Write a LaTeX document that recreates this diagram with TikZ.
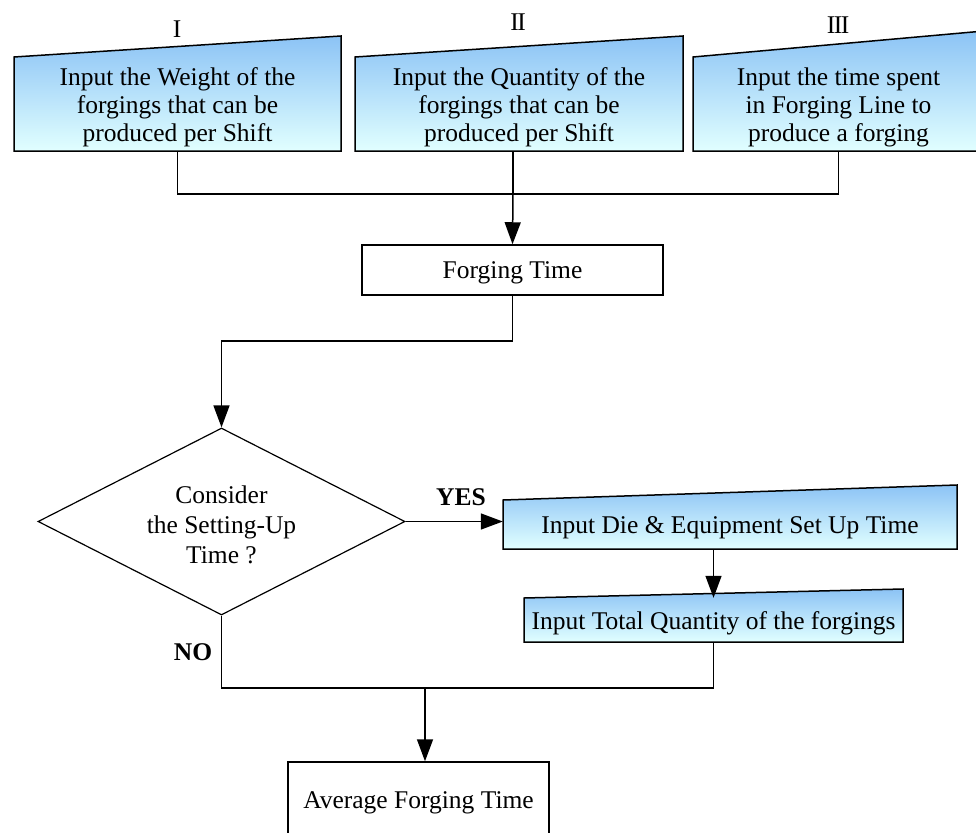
\documentclass[tikz,border=0pt]{standalone}
\usepackage{fontspec}
\setmainfont{Liberation Serif}
\usetikzlibrary{shapes.geometric,arrows.meta}
\definecolor{skytop}{RGB}{140,195,245}
\definecolor{skybot}{RGB}{225,255,255}

% Input box with a sloping top edge, filled with a sky gradient.
% #1 name, #2 left x, #3 right x, #4 bottom y, #5 top-left y, #6 top-right y, #7 text
\newcommand{\slantbox}[7]{%
  \path[skyfill] (#2,#4) -- (#2,#5) -- (#3,#6) -- (#3,#4) -- cycle;
  \draw[line] (#2,#4) -- (#2,#5) -- (#3,#6) -- (#3,#4) -- cycle;
  \node[inrect, minimum width={#3-#2}, minimum height={#5-#4}] (#1)
    at ({(#2+#3)/2},{(#4+#5)/2}) {};
  \node[txt] (#1-text) at (#1.center) {#7};}

\begin{document}
\begin{tikzpicture}[x=1pt,y=1pt,
  every node/.style={font=\fontsize{25.5}{28}\selectfont},
  txt/.style={inner sep=0pt, align=center, yshift=-3pt},
  line/.style={line width=1.5pt, line join=miter},
  arr/.style={line, -{Triangle[length=22pt,width=16pt]}},
  inrect/.style={rectangle, inner sep=0pt},
  plainbox/.style={draw, line width=1.5pt, rectangle, inner sep=0pt},
  lbl/.style={font=\bfseries\fontsize{25.5}{28}\selectfont},
  skyfill/.style={top color=skytop, bottom color=skybot}
]
\useasboundingbox (0,0) rectangle (976,-832);
\clip (0,0) rectangle (976,-832);

% three input boxes
\slantbox{b1}{14}{341}{-151}{-57}{-36}{Input the Weight of the\\forgings that can be\\produced per Shift}
\slantbox{b2}{355}{683}{-151}{-57}{-36}{Input the Quantity of the\\forgings that can be\\produced per Shift}
\slantbox{b3}{693}{984}{-151}{-57}{-31}{Input the time spent\\in Forging Line to\\produce a forging}

\node (lI) at (177,-29) {I};
\node (lII) at (518,-22) {I\kern-1.5pt I};
\node (lIII) at (838,-25) {I\kern-1.5pt I\kern-1.5pt I};

% process boxes
\node[plainbox, minimum width=301pt, minimum height=50pt] (ft) at (512.5,-270) {};
\node[txt] (ft-text) at (ft.center) {Forging Time};
\node[draw, line width=1.2pt, diamond, aspect=1.96, minimum width=367pt,
      minimum height=187pt, inner sep=0pt] (dec) at (221.5,-521.5) {};
\node[txt, font=\fontsize{25.5}{30}\selectfont] (dec-text) at (dec.center)
      {Consider\\the Setting-Up\\Time ?};
\slantbox{die}{503}{957}{-549}{-500}{-485}{Input Die \& Equipment Set Up Time}
\slantbox{tot}{524}{903}{-642}{-598}{-589}{Input Total Quantity of the forgings}
\node[plainbox, minimum width=261pt, minimum height=76pt] (avg) at (418.5,-800) {};
\node[txt] (avg-text) at (avg.center) {Average Forging Time};

% branch labels
\node[lbl] (yes) at (461,-497) {YES};
\node[lbl] (no) at (193,-652) {NO};

% connectors
\coordinate (j) at (513,-194);
\coordinate (m) at (425,-688);
\draw[line] (b1.south) |- (j) -| (b3.south);
\draw[line] (b2.south -| j) -- (j);
\draw[arr] (j) -- (ft.north);
\draw[arr] (ft.south) -- ++(0,-45) -| (dec.north);
\draw[arr] (dec.east) -- (dec.east -| die.west);
\draw[arr] (die.south -| tot.north) -- (tot.north);
\draw[line] (dec.south) |- (m) -| (tot.south);
\draw[arr] (m) -- (m |- avg.north);
\end{tikzpicture}
\end{document}
